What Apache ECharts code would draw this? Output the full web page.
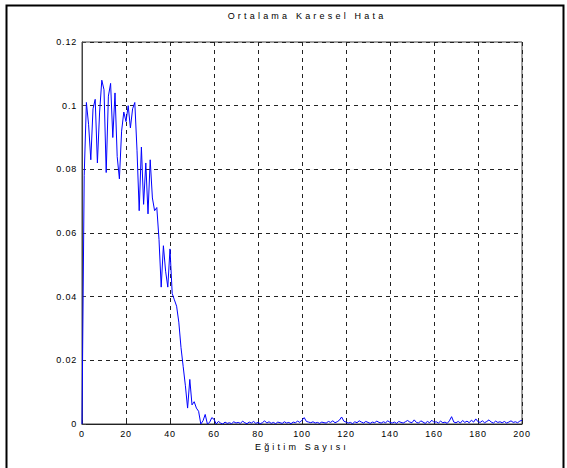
<!DOCTYPE html>
<html>
<head>
<meta charset="utf-8">
<title>Ortalama Karesel Hata</title>
<script src="https://cdn.jsdelivr.net/npm/echarts@6/dist/echarts.min.js"></script>
<style>
    html, body { margin: 0; padding: 0; background: #fff; }
    #chart { width: 567px; height: 468px; }
    /* MATLAB 风格的字间距 */
    #chart text { letter-spacing: 0.8px; }
    #chart text.wide { letter-spacing: 3.2px; }
</style>
</head>
<body>
<div id="chart"></div>
<script>
// 标题和坐标轴名称
var chart_title = 'Ortalama Karesel Hata';
var x_name = 'Eğitim Sayısı';

// 刻度
var x_ticks = [0, 20, 40, 60, 80, 100, 120, 140, 160, 180, 200];
var y_ticks = [0, 0.02, 0.04, 0.06, 0.08, 0.1, 0.12];

// 每次训练的误差 (epoch 0..60)
var hata_bas = [
    0, 0.078, 0.101, 0.094, 0.083, 0.099, 0.102, 0.082, 0.098, 0.108,
    0.105, 0.079, 0.103, 0.107, 0.090, 0.104, 0.084, 0.077, 0.092, 0.098,
    0.095, 0.100, 0.093, 0.099, 0.101, 0.086, 0.067, 0.087, 0.069, 0.082,
    0.066, 0.083, 0.071, 0.067, 0.068, 0.058, 0.043, 0.056, 0.048, 0.043,
    0.055, 0.041, 0.039, 0.037, 0.032, 0.024, 0.018, 0.012, 0.005, 0.014,
    0.006, 0.007, 0.005, 0.004, 0.0, 0.001, 0.003, 0.0, 0.0005, 0.002,
    0.0015
];

// epoch 61..200
var hata_son = [
    0.0, 0.0008, 0.0003, 0.0, 0.0006, 0.0002, 0.0004, 0.0001, 0.0007, 0.0003,
    0.0005, 0.0002, 0.0009, 0.0004, 0.0001, 0.0006, 0.0003, 0.0008, 0.0002, 0.0005,
    0.0001, 0.0004, 0.0010, 0.0003, 0.0007, 0.0002, 0.0005, 0.0001, 0.0006, 0.0004,
    0.0002, 0.0007, 0.0003, 0.0005, 0.0001, 0.0006, 0.0004, 0.0009, 0.0005, 0.0012,
    0.0020, 0.0008, 0.0006, 0.0004, 0.0007, 0.0003, 0.0005, 0.0002, 0.0006, 0.0004,
    0.0003, 0.0008, 0.0005, 0.0010, 0.0004, 0.0007, 0.0012, 0.0022, 0.0009, 0.0006,
    0.0003, 0.0005, 0.0001, 0.0007, 0.0004, 0.0010, 0.0006, 0.0003, 0.0008, 0.0005,
    0.0002, 0.0006, 0.0004, 0.0009, 0.0005, 0.0003, 0.0007, 0.0004, 0.0010, 0.0005,
    0.0003, 0.0006, 0.0002, 0.0008, 0.0005, 0.0003, 0.0007, 0.0011, 0.0006, 0.0004,
    0.0013, 0.0005, 0.0003, 0.0010, 0.0006, 0.0002, 0.0008, 0.0004, 0.0012, 0.0005,
    0.0007, 0.0003, 0.0009, 0.0004, 0.0006, 0.0002, 0.0010, 0.0023, 0.0006, 0.0004,
    0.0008, 0.0003, 0.0011, 0.0005, 0.0009, 0.0004, 0.0012, 0.0006, 0.0016, 0.0007,
    0.0005, 0.0010, 0.0004, 0.0008, 0.0013, 0.0006, 0.0003, 0.0009, 0.0005, 0.0007,
    0.0004, 0.0008, 0.0003, 0.0006, 0.0010, 0.0005, 0.0007, 0.0004, 0.0009, 0.0012
];

var hata = hata_bas.concat(hata_son);
var points = [];
for (var i = 0; i < hata.length; i++) {
    points.push([i, hata[i]]);
}

var font = 'Liberation Sans, Arial, sans-serif';
var my_chart = echarts.init(document.getElementById('chart'), null, { renderer: 'svg' });

var option = {
    animation: false,
    backgroundColor: '#fff',
    title: {
        text: chart_title,
        left: 302,
        top: 6,
        textAlign: 'center',
        textStyle: { fontSize: 9, fontWeight: 'normal', color: '#000', fontFamily: font }
    },
    grid: {
        left: 82,
        right: 45,
        top: 42,
        bottom: 44,
        show: true,
        borderColor: '#444',
        borderWidth: 1
    },
    xAxis: {
        type: 'value',
        min: x_ticks[0],
        max: x_ticks[x_ticks.length - 1],
        interval: 20,
        name: x_name,
        nameLocation: 'middle',
        nameGap: 18,
        nameTextStyle: { fontSize: 9, color: '#000', fontFamily: font },
        axisLine: { lineStyle: { color: '#222' } },
        axisTick: { inside: true, length: 4, lineStyle: { color: '#222' } },
        axisLabel: { fontSize: 9, color: '#000', fontFamily: font, margin: 5 },
        splitLine: { show: true, lineStyle: { color: '#222', type: [4, 4], width: 1 } }
    },
    yAxis: {
        type: 'value',
        min: y_ticks[0],
        max: y_ticks[y_ticks.length - 1],
        interval: 0.02,
        axisLine: { show: true, lineStyle: { color: '#444' } },
        axisTick: { show: true, inside: true, length: 4, lineStyle: { color: '#444' } },
        axisLabel: {
            fontSize: 9, color: '#000', fontFamily: font, margin: 5,
            formatter: function (v) { return String(+v.toFixed(2)); }
        },
        splitLine: { show: true, lineStyle: { color: '#222', type: [4, 4], width: 1 } }
    },
    series: [{
        type: 'line',
        data: points,
        showSymbol: false,
        lineStyle: { color: '#0000ff', width: 1 },
        z: 3
    }],
    graphic: [{
        type: 'polyline',
        shape: { points: [[6.5, 468], [6.5, 5.5], [563.5, 5.5], [563.5, 468]] },
        style: { stroke: '#000', lineWidth: 2, fill: null }
    }]
};

my_chart.setOption(option);

// 标题和轴名称加宽字距
var texts = document.querySelectorAll('#chart text');
for (var k = 0; k < texts.length; k++) {
    var t = texts[k].textContent;
    if (t === chart_title || t === x_name) {
        texts[k].classList.add('wide');
    }
}
</script>
</body>
</html>
